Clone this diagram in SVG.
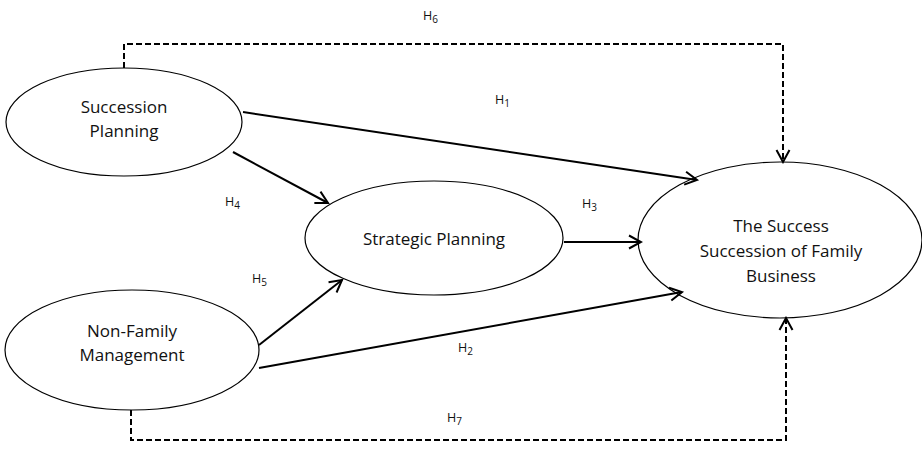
<svg xmlns="http://www.w3.org/2000/svg" width="922" height="449" viewBox="0 0 922 449">
<style>
.node ellipse{fill:#fff;stroke:#000;stroke-width:1.2}
.node text{font-family:"Open Sans","Liberation Sans",sans-serif;font-size:17px;fill:#111;text-anchor:middle}
.lbl{font-family:"Open Sans","Liberation Sans",sans-serif;font-size:12.5px;fill:#111}
.sub{font-size:10px}
.arr{stroke:#000;stroke-width:2;fill:none;marker-end:url(#ah)}
.dash{stroke:#000;stroke-width:2;fill:none;stroke-dasharray:6,3;marker-end:url(#ah)}
</style>
<defs>
<marker id="ah" markerUnits="userSpaceOnUse" markerWidth="16" markerHeight="16" viewBox="0 0 16 16" refX="14" refY="8" orient="auto">
<path d="M2,1.5 L14,8 L2,14.5" fill="none" stroke="#000" stroke-width="2"/>
</marker>
</defs>
<rect width="922" height="449" fill="#fff"/>
<g id="succession-planning" class="node">
<ellipse cx="124" cy="122" rx="118" ry="54"/>
<text x="124" y="113">Succession</text>
<text x="124" y="137">Planning</text>
</g>
<g id="strategic-planning" class="node">
<ellipse cx="434" cy="238" rx="129" ry="57"/>
<text x="434" y="245">Strategic Planning</text>
</g>
<g id="non-family-management" class="node">
<ellipse cx="132" cy="350" rx="127" ry="60"/>
<text x="132" y="337">Non-Family</text>
<text x="132" y="361">Management</text>
</g>
<g id="success-succession" class="node">
<ellipse cx="780" cy="240" rx="142" ry="78"/>
<text x="781" y="232">The Success</text>
<text x="781" y="257">Succession of Family</text>
<text x="781" y="282">Business</text>
</g>
<g id="connectors">
<path class="dash" d="M124,68 V44 H783 V162"/>
<path class="dash" d="M131,410 V440 H786 V318"/>
<line class="arr" x1="243" y1="112" x2="697" y2="180"/>
<line class="arr" x1="233" y1="152" x2="328" y2="203"/>
<line class="arr" x1="564" y1="242" x2="641" y2="242"/>
<line class="arr" x1="259" y1="345" x2="342" y2="280"/>
<line class="arr" x1="259" y1="368" x2="682" y2="292"/>
</g>
<g id="labels">
<text class="lbl" x="423" y="20">H<tspan class="sub" dy="3">6</tspan></text>
<text class="lbl" x="495" y="104">H<tspan class="sub" dy="3">1</tspan></text>
<text class="lbl" x="225" y="206">H<tspan class="sub" dy="3">4</tspan></text>
<text class="lbl" x="582" y="208">H<tspan class="sub" dy="3">3</tspan></text>
<text class="lbl" x="252" y="283">H<tspan class="sub" dy="3">5</tspan></text>
<text class="lbl" x="458" y="352">H<tspan class="sub" dy="3">2</tspan></text>
<text class="lbl" x="447" y="422">H<tspan class="sub" dy="3">7</tspan></text>
</g>
</svg>
